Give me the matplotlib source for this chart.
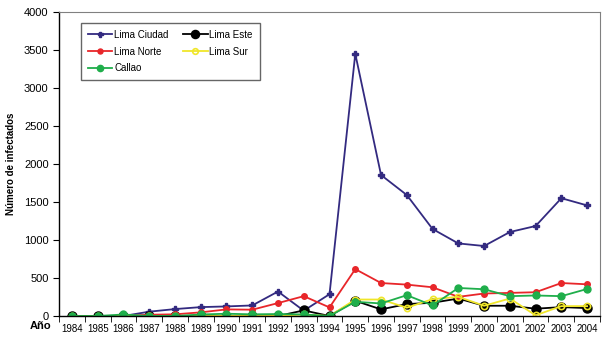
import numpy as np
import matplotlib.pyplot as plt

years = list(range(1984, 2005))
lima_ciudad = [0, 0, 0, 57, 91, 117, 126, 139, 322, 70, 287, 3450, 1855, 1592, 1145, 955, 921, 1105, 1184, 1550, 1455]
lima_este = [0, 0, 0, 0, 0, 0, 0, 0, 0, 74, 0, 200, 87, 157, 174, 230, 135, 135, 96, 117, 104]
lima_norte = [0, 0, 0, 17, 22, 48, 87, 83, 170, 261, 113, 617, 434, 413, 378, 252, 296, 304, 313, 434, 417]
lima_sur = [0, 0, 0, 0, 0, 0, 0, 0, 0, 20, 0, 217, 217, 109, 222, 252, 135, 230, 9, 130, 130]
callao = [0, 0, 20, 0, 0, 20, 30, 22, 26, 20, 0, 187, 165, 274, 139, 369, 352, 261, 270, 261, 356]

plt.rcParams['font.family'] = ['Liberation Sans', 'DejaVu Sans']

fig = plt.figure(figsize=(6.04, 3.37), dpi=100)
ax = fig.add_axes([0.0977, 0.0623, 0.8957, 0.9021])
x = np.arange(len(years))

l_ciudad, = ax.plot(x, lima_ciudad, color='#332a80', lw=1.3, marker='P', ms=4, label='Lima Ciudad')
l_este, = ax.plot(x, lima_este, color='black', lw=1.3, marker='o', ms=6.5, label='Lima Este')
l_norte, = ax.plot(x, lima_norte, color='#e8262a', lw=1.3, marker='o', ms=4, label='Lima Norte')
l_sur, = ax.plot(x, lima_sur, color='#f0e62a', lw=1.3, marker='o', ms=4.5, mfc='none', mec='#f0e62a',
                 mew=1.2, label='Lima Sur')
l_callao, = ax.plot(x, callao, color='#1fae4b', lw=1.3, marker='o', ms=5, label='Callao')

ax.set_xlim(-0.5, len(years) - 0.5)
ax.set_ylim(0, 4000)
ax.set_yticks(range(0, 4001, 500))
ax.set_xticks(x)
ax.set_xticklabels(years)
ax.set_xticks(np.arange(-0.5, len(years), 1), minor=True)
ax.tick_params(axis='x', which='major', length=0, labelsize=7, pad=6)
ax.tick_params(axis='x', which='minor', length=4, direction='out')
ax.tick_params(axis='y', labelsize=8, length=4, direction='out')

for side in ['top', 'right']:
    ax.spines[side].set_color('#808080')
ax.spines['left'].set_linewidth(1.0)
ax.spines['bottom'].set_linewidth(1.0)

ax.set_ylabel('Número de infectados', fontsize=7, fontweight='bold', labelpad=6)
fig.text(0.05, 0.032, 'Año', fontsize=8, fontweight='bold', va='center', ha='left')

# legend fills column by column, so order handles to read row by row
handles = [l_ciudad, l_norte, l_callao, l_este, l_sur]
leg = ax.legend(handles=handles, labels=[h.get_label() for h in handles],
                loc='upper left', bbox_to_anchor=(0.032, 0.98), ncol=2, fontsize=7,
                frameon=True, fancybox=False, edgecolor='#404040', handlelength=2.5,
                columnspacing=1.5, labelspacing=0.7, borderpad=0.7, handletextpad=0.2,
                markerscale=0.9)
leg.get_frame().set_linewidth(1.0)

fig.savefig('out.png', dpi=100)
